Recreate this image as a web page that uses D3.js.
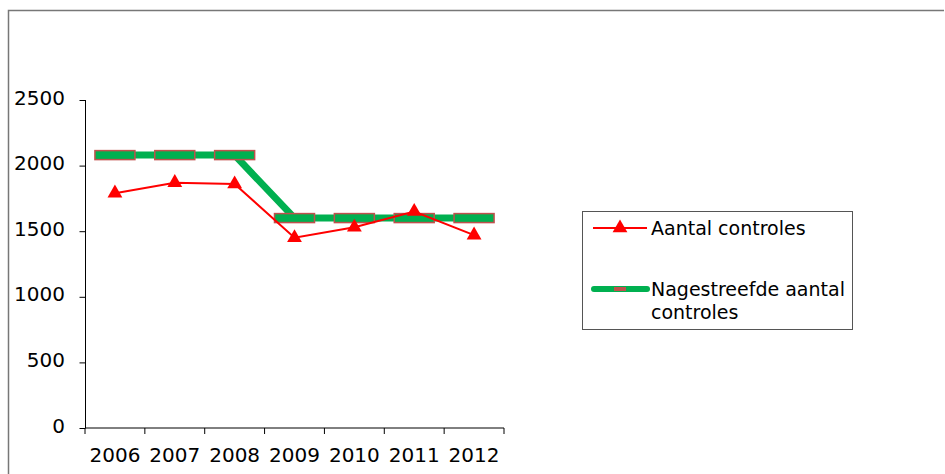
<!DOCTYPE html>
<html>
<head>
<meta charset="utf-8">
<script src="https://cdn.jsdelivr.net/npm/d3@7"></script>
<style>
  body { margin: 0; background: #fff; }
  text { font-family: "DejaVu Sans", Verdana, sans-serif; }
</style>
</head>
<body>
<div id="chart"></div>
<script>
// chart data
var years = ["2006", "2007", "2008", "2009", "2010", "2011", "2012"];
var aantal = [1790, 1870, 1860, 1450, 1530, 1650, 1470];
var nagestreefd = [2080, 2080, 2080, 1600, 1600, 1600, 1600];
var yTicks = [0, 500, 1000, 1500, 2000, 2500];
var seriesNames = ["Aantal controles", "Nagestreefde aantal controles"];

var svgWidth = 945;
var svgHeight = 474;

var margin = { top: 100, left: 85 };
var width = 419;
var height = 328;

var svg = d3.select("#chart")
    .append("svg")
    .attr("width", svgWidth)
    .attr("height", svgHeight);

// outer frame (only top and left edges visible)
svg.append("path")
    .attr("d", "M8.5,474 L8.5,10.5 L944,10.5")
    .attr("fill", "none")
    .attr("stroke", "#777")
    .attr("stroke-width", 1.5);

var chartGroup = svg.append("g")
    .attr("transform", `translate(${margin.left}, ${margin.top})`);

var xScale = d3.scaleBand()
    .domain(years)
    .range([0, width]);

var yScale = d3.scaleLinear()
    .domain([0, 2500])
    .range([height, 0]);

var xc = d => xScale(d) + xScale.bandwidth() / 2;

// axes
var bottomAxis = d3.axisBottom(xScale).tickSize(0).tickPadding(0);
var leftAxis = d3.axisLeft(yScale)
    .tickValues(yTicks)
    .tickFormat(d3.format("d"))
    .tickSize(6)
    .tickPadding(14);

var xAxisG = chartGroup.append("g")
    .attr("transform", `translate(0, ${height})`)
    .call(bottomAxis);
xAxisG.select(".domain").remove();
xAxisG.selectAll("text")
    .attr("y", 20)
    .attr("font-size", 20)
    .attr("fill", "#000");

xAxisG.append("line")
    .attr("x1", 0).attr("x2", width)
    .attr("stroke", "#000");
// category boundary ticks
xAxisG.selectAll(".bt")
    .data(d3.range(years.length + 1))
    .enter()
    .append("line")
    .attr("x1", i => i * xScale.step())
    .attr("x2", i => i * xScale.step())
    .attr("y1", 0).attr("y2", 6)
    .attr("stroke", "#000");

var yAxisG = chartGroup.append("g").call(leftAxis);
yAxisG.select(".domain").attr("d", `M0.5,0V${height}`).attr("stroke", "#000");
yAxisG.selectAll("line").attr("stroke", "#000");
yAxisG.selectAll("text")
    .attr("font-size", 20)
    .attr("fill", "#000")
    .attr("dy", "0.2em");
yAxisG.selectAll(".tick line").attr("transform", "translate(0.5,0)");

// target series: thick green line with dash markers
var lineTarget = d3.line()
    .x((d, i) => xc(years[i]))
    .y(d => yScale(d));

chartGroup.append("path")
    .datum(nagestreefd)
    .attr("d", lineTarget)
    .attr("fill", "none")
    .attr("stroke", "#00b050")
    .attr("stroke-width", 7);

chartGroup.selectAll(".dash")
    .data(nagestreefd)
    .enter()
    .append("rect")
    .attr("x", (d, i) => xc(years[i]) - 20)
    .attr("y", d => yScale(d) - 4.5)
    .attr("width", 40)
    .attr("height", 9)
    .attr("fill", "#00b050")
    .attr("stroke", "#c0504d")
    .attr("stroke-width", 1.5);

// actual series: red line with triangles
chartGroup.append("path")
    .datum(aantal)
    .attr("d", lineTarget)
    .attr("fill", "none")
    .attr("stroke", "#ff0000")
    .attr("stroke-width", 2);

var tri = d3.symbol().type(d3.symbolTriangle).size(95);
chartGroup.selectAll(".tri")
    .data(aantal)
    .enter()
    .append("path")
    .attr("d", tri)
    .attr("transform", (d, i) => `translate(${xc(years[i])}, ${yScale(d)})`)
    .attr("fill", "#ff0000");

// legend
var legend = svg.append("g");
legend.append("rect")
    .attr("x", 582.5).attr("y", 211.5)
    .attr("width", 270).attr("height", 118)
    .attr("fill", "#fff")
    .attr("stroke", "#555");

legend.append("line")
    .attr("x1", 593).attr("x2", 647)
    .attr("y1", 228).attr("y2", 228)
    .attr("stroke", "#ff0000").attr("stroke-width", 2);
legend.append("path")
    .attr("d", tri)
    .attr("transform", "translate(620, 228)")
    .attr("fill", "#ff0000");
legend.append("text")
    .attr("x", 651).attr("y", 235)
    .attr("font-size", 19)
    .text(seriesNames[0]);

legend.append("line")
    .attr("x1", 594).attr("x2", 647)
    .attr("y1", 289).attr("y2", 289)
    .attr("stroke", "#00b050").attr("stroke-width", 6)
    .attr("stroke-linecap", "round");
legend.append("rect")
    .attr("x", 614).attr("y", 287)
    .attr("width", 12).attr("height", 4)
    .attr("fill", "#c0504d");
var t2 = legend.append("text")
    .attr("x", 651).attr("y", 296)
    .attr("font-size", 19);
t2.append("tspan").attr("x", 651).text("Nagestreefde aantal");
t2.append("tspan").attr("x", 651).attr("dy", 23).text("controles");
</script>
</body>
</html>
